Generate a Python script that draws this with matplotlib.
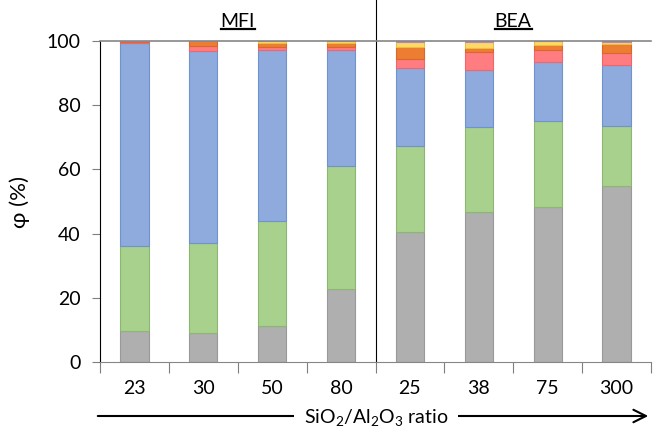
import matplotlib
matplotlib.use("Agg")
import matplotlib.pyplot as plt
import numpy as np

plt.rcParams["font.family"] = ["Lato", "DejaVu Sans"]
plt.rcParams["mathtext.fontset"] = "custom"
plt.rcParams["mathtext.rm"] = "Lato"
plt.rcParams["mathtext.it"] = "Lato:italic"

# SiO2/Al2O3 ratios (MFI then BEA)
ratios = ["23", "30", "50", "80", "25", "38", "75", "300"]

# cumulative boundaries of each fraction (%)
gray_top   = [9.7, 9.0, 11.2, 22.7, 40.5, 46.7, 48.3, 54.8]
green_top  = [36.1, 37.1, 43.9, 61.0, 67.3, 73.2, 75.1, 73.5]
blue_top   = [99.3, 97.0, 97.2, 97.1, 91.7, 91.1, 93.4, 92.5]
red_top    = [99.6, 98.4, 98.1, 98.1, 94.4, 96.5, 97.1, 96.3]
orange_top = [100.0, 100.0, 99.3, 99.4, 98.2, 97.7, 98.8, 99.2]
yellow_top = [100.0, 100.0, 100.0, 100.0, 99.6, 99.8, 100.0, 99.6]
purple_top = [100.0, 100.0, 100.0, 100.0, 100.0, 100.0, 100.0, 100.0]

tops = [gray_top, green_top, blue_top, red_top, orange_top, yellow_top, purple_top]
faces = ["#AFAFAF", "#A9D18E", "#8FAADC", "#FF7C80", "#ED7D31", "#FFD966", "#C9A3D9"]
edges = ["#999999", "#8DB771", "#6E93CF", "#F0666A", "#D9692A", "#E8C040", "#B088C4"]

fig = plt.figure(figsize=(6.53, 4.29), dpi=100)
ax = fig.add_axes([100 / 653, 1 - 362 / 429, 551 / 653, 321 / 429])

x = np.arange(len(ratios))
prev = np.zeros(len(ratios))
for top, fc, ec in zip(tops, faces, edges):
    top = np.array(top)
    h = top - prev
    ax.bar(x, h, bottom=prev, width=0.41, color=fc, edgecolor=ec, linewidth=0.8)
    prev = top

ax.set_xlim(-0.5, len(ratios) - 0.5)
ax.set_ylim(0, 100)
ax.set_yticks([0, 20, 40, 60, 80, 100])
ax.tick_params(axis="y", direction="out", length=6, color="#7F7F7F", labelsize=14, pad=8)
ax.set_xticks(np.arange(len(ratios) + 1) - 0.5)
ax.set_xticklabels([])
ax.set_xticks(x, minor=True)
ax.set_xticklabels(ratios, minor=True)
ax.tick_params(axis="x", which="major", direction="out", length=8, color="#7F7F7F")
ax.tick_params(axis="x", which="minor", length=0, labelsize=14, pad=13)

ax.spines["right"].set_visible(False)
ax.spines["top"].set_color("#868686")
ax.spines["bottom"].set_color("#868686")
ax.spines["left"].set_color("black")
ax.spines["top"].set_linewidth(1.2)

ax.set_ylabel("φ (%)", fontsize=16, labelpad=12)

# separator between the two zeolite families
ax.plot([3.5, 3.5], [0, 1.13], transform=ax.get_xaxis_transform(), color="black",
        linewidth=0.8, clip_on=False)

# family labels, underlined
labels = []
for xp, name in [(1.5, "MFI"), (5.5, "BEA")]:
    t = ax.text(xp, 1.06, name, transform=ax.get_xaxis_transform(), ha="center",
                va="center", fontsize=14)
    labels.append(t)

# x-axis caption with long arrow
cap = fig.text(376 / 653, 1 - 418 / 429, "SiO$_2$/Al$_2$O$_3$ ratio", ha="center",
               va="center", fontsize=14,
               bbox=dict(facecolor="white", edgecolor="none", pad=7), zorder=5)
fig.add_artist(matplotlib.patches.FancyArrowPatch(
    (95 / 653, 1 - 416 / 429), (651 / 653, 1 - 416 / 429),
    transform=fig.transFigure, arrowstyle="->,head_length=6,head_width=3",
    mutation_scale=1.5, color="black", linewidth=1.5, zorder=1))

fig.canvas.draw()
r = fig.canvas.get_renderer()
inv = fig.transFigure.inverted()
for t in labels:
    bb = t.get_window_extent(r)
    (x0, y0), (x1, y1) = inv.transform([[bb.x0, bb.y0], [bb.x1, bb.y1]])
    fig.add_artist(matplotlib.lines.Line2D([x0, x1], [y0 + 0.002, y0 + 0.002],
                                           color="black", linewidth=1.6,
                                           transform=fig.transFigure))

fig.savefig("out.png", dpi=100)
